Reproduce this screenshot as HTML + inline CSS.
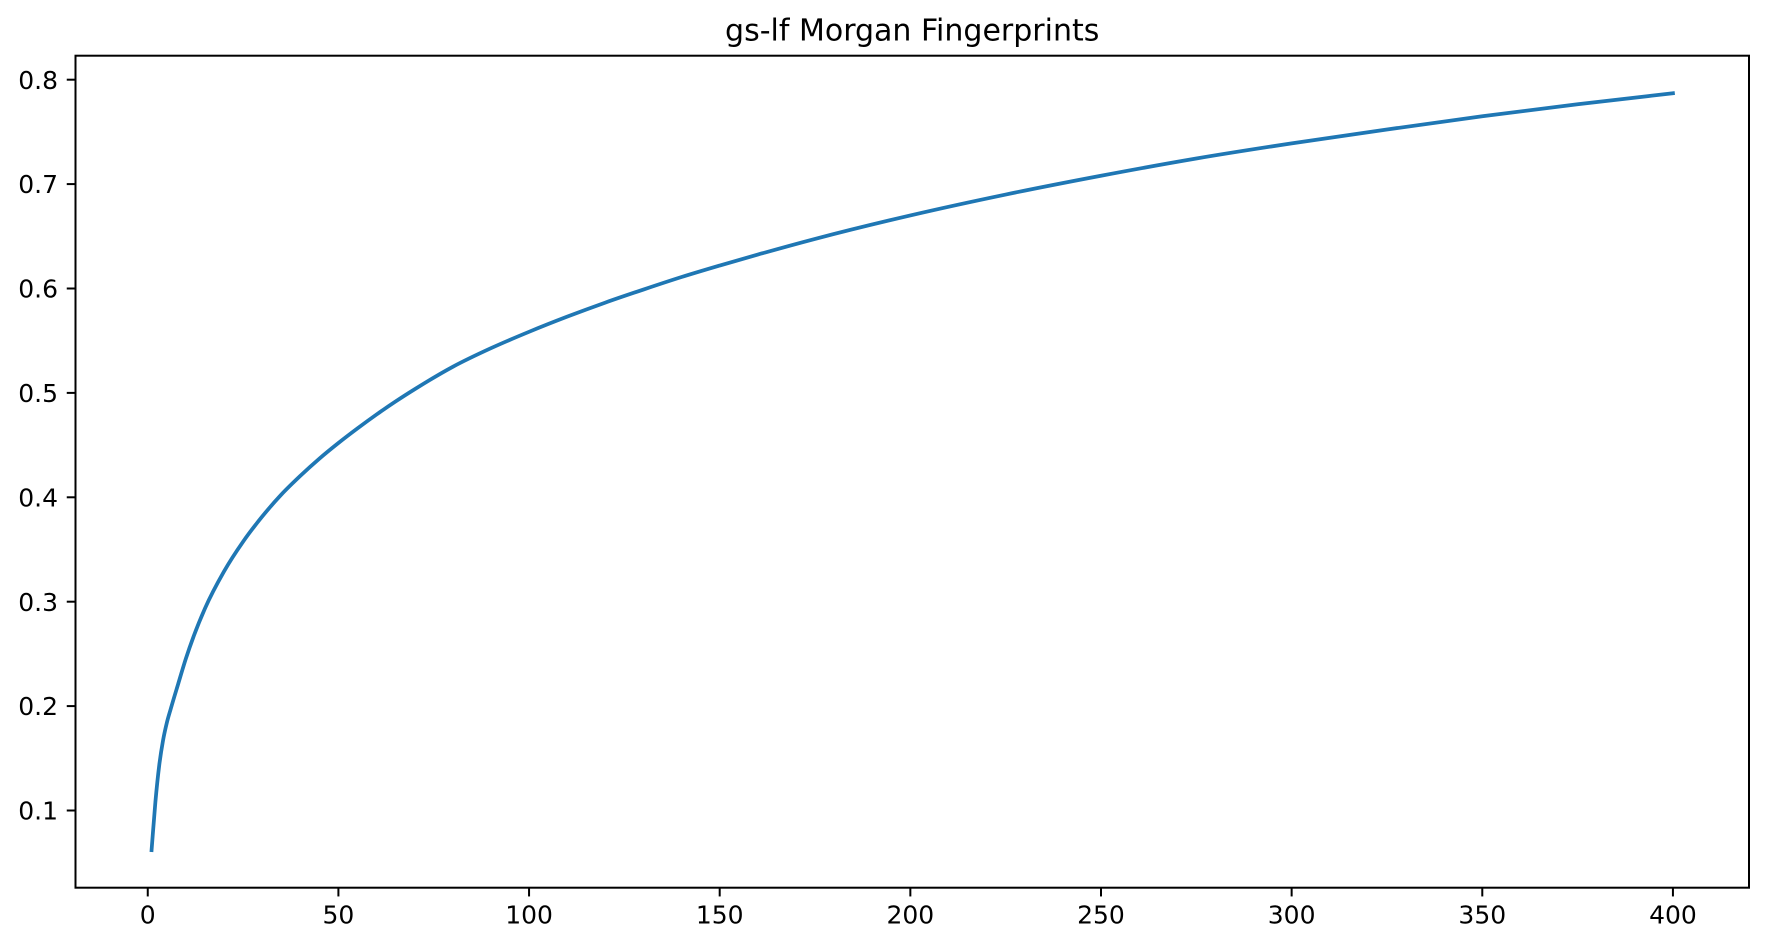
<!DOCTYPE html>
<html lang="en">
<head>
<meta charset="utf-8">
<title>gs-lf Morgan Fingerprints</title>
<style>
  html, body { margin: 0; padding: 0; background: #ffffff; }
  body { width: 1767px; height: 947px; overflow: hidden; }
  svg { display: block; }
  text { font-family: "DejaVu Sans", "Liberation Sans", sans-serif; fill: #000000; }
</style>
</head>
<body>
<svg id="chart" xmlns="http://www.w3.org/2000/svg" width="1767" height="947" viewBox="0 0 1767 947">
  <rect x="0" y="0" width="1767" height="947" fill="#ffffff"></rect>
  <text x="912.2" y="40.7" font-size="30" text-anchor="middle">gs-lf Morgan Fingerprints</text>
  <g id="marks"></g>
  <g id="axes"></g>
  <rect x="75.5" y="55.7" width="1673.5" height="832" fill="none" stroke="#000000" stroke-width="2"></rect>
</svg>
<script>
const xValues = [1, 2, 3, 4, 5, 6, 8, 10, 12, 15, 20, 25, 30, 35, 40, 45, 50, 55, 60, 65, 70, 80, 90, 100, 110, 120, 130, 140, 150, 160, 175, 200, 225, 250, 275, 300, 325, 350, 375, 400];
const yValues = [0.062, 0.108, 0.143, 0.167, 0.184, 0.197, 0.2215, 0.2455, 0.2665, 0.2935, 0.329, 0.3575, 0.3815, 0.4025, 0.4205, 0.437, 0.452, 0.466, 0.4793, 0.4918, 0.5035, 0.525, 0.5428, 0.5585, 0.573, 0.5865, 0.599, 0.611, 0.622, 0.6325, 0.6475, 0.670, 0.690, 0.708, 0.7245, 0.739, 0.7523, 0.765, 0.7765, 0.787];
const xTickValues = [0, 50, 100, 150, 200, 250, 300, 350, 400];
const yTickValues = [0.1, 0.2, 0.3, 0.4, 0.5, 0.6, 0.7, 0.8];

const SVG_NS = 'http://www.w3.org/2000/svg';
const plot = { left: 75.5, right: 1749, top: 55.7, bottom: 887.7 };
const xDomain = [-18.95, 419.95];
const yDomain = [0.02605, 0.82298];

function xScale(v) {
  return plot.left + (v - xDomain[0]) / (xDomain[1] - xDomain[0]) * (plot.right - plot.left);
}
function yScale(v) {
  return plot.bottom - (v - yDomain[0]) / (yDomain[1] - yDomain[0]) * (plot.bottom - plot.top);
}

/* Cubic path through the data points, so the curve stays smooth. */
function smoothPath(xs, ys) {
  const n = xs.length;
  const slopes = [];
  for (let i = 0; i < n - 1; i++) {
    slopes.push((ys[i + 1] - ys[i]) / (xs[i + 1] - xs[i]));
  }
  const tangents = [slopes[0]];
  for (let i = 1; i < n - 1; i++) {
    const h0 = xs[i] - xs[i - 1];
    const h1 = xs[i + 1] - xs[i];
    tangents.push((slopes[i - 1] * h1 + slopes[i] * h0) / (h0 + h1));
  }
  tangents.push(slopes[n - 2]);
  let d = 'M' + xs[0].toFixed(2) + ' ' + ys[0].toFixed(2);
  for (let i = 0; i < n - 1; i++) {
    const h = (xs[i + 1] - xs[i]) / 3;
    d += ' C' + (xs[i] + h).toFixed(2) + ' ' + (ys[i] + tangents[i] * h).toFixed(2) +
         ' ' + (xs[i + 1] - h).toFixed(2) + ' ' + (ys[i + 1] - tangents[i + 1] * h).toFixed(2) +
         ' ' + xs[i + 1].toFixed(2) + ' ' + ys[i + 1].toFixed(2);
  }
  return d;
}

const marks = document.getElementById('marks');
const axes = document.getElementById('axes');

const line = document.createElementNS(SVG_NS, 'path');


line.setAttribute('fill', 'none');
line.setAttribute('stroke', '#1f77b4');
line.setAttribute('stroke-width', '3.75');
line.setAttribute('stroke-linecap', 'square');
line.setAttribute('stroke-linejoin', 'round');
line.setAttribute('d', smoothPath(xValues.map(xScale), yValues.map(yScale)));
marks.appendChild(line);

xTickValues.forEach(function (value) {
  const px = xScale(value);
  const tick = document.createElementNS(SVG_NS, 'line');
  
  
  tick.setAttribute('x1', px);
  tick.setAttribute('x2', px);
  tick.setAttribute('y1', plot.bottom);
  tick.setAttribute('y2', plot.bottom + 8.75);
  tick.setAttribute('stroke', '#000000');
  tick.setAttribute('stroke-width', '2');
  axes.appendChild(tick);

  const label = document.createElementNS(SVG_NS, 'text');
  
  
  label.setAttribute('x', px);
  label.setAttribute('y', plot.bottom + 35.7);
  label.setAttribute('font-size', '25');
  label.setAttribute('text-anchor', 'middle');
  label.textContent = String(value);
  axes.appendChild(label);
});

yTickValues.forEach(function (value) {
  const py = yScale(value);
  const tick = document.createElementNS(SVG_NS, 'line');
  
  
  tick.setAttribute('x1', plot.left - 8.75);
  tick.setAttribute('x2', plot.left);
  tick.setAttribute('y1', py);
  tick.setAttribute('y2', py);
  tick.setAttribute('stroke', '#000000');
  tick.setAttribute('stroke-width', '2');
  axes.appendChild(tick);

  const label = document.createElementNS(SVG_NS, 'text');
  
  
  label.setAttribute('x', plot.left - 17.5);
  label.setAttribute('y', py + 9.1);
  label.setAttribute('font-size', '25');
  label.setAttribute('text-anchor', 'end');
  label.textContent = value.toFixed(1);
  axes.appendChild(label);
});
</script>
</body>
</html>
